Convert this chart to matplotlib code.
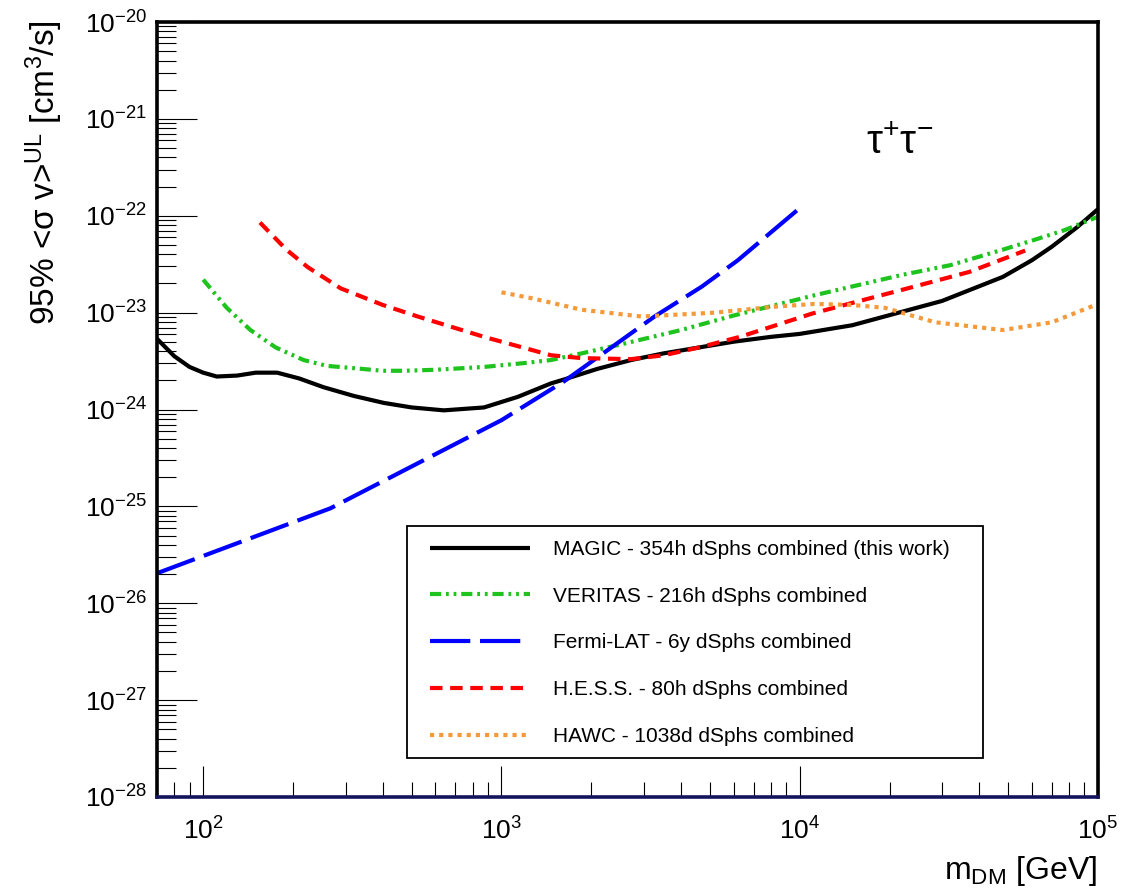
import numpy as np
import matplotlib
matplotlib.use("Agg")
import matplotlib.pyplot as plt
from matplotlib.ticker import FixedLocator, NullFormatter, LogFormatterSciNotation
from matplotlib.patches import Rectangle

plt.rcParams['font.family'] = ['Liberation Sans', 'DejaVu Sans']
plt.rcParams['mathtext.fontset'] = 'custom'
plt.rcParams['mathtext.rm'] = 'Liberation Sans'
plt.rcParams['mathtext.it'] = 'Liberation Sans:italic'
plt.rcParams['mathtext.bf'] = 'Liberation Sans:bold'
plt.rcParams['mathtext.sf'] = 'Liberation Sans'
plt.rcParams['mathtext.default'] = 'regular'
plt.rcParams['lines.scale_dashes'] = False

# ---------------- data ----------------
magic_m = [70, 80, 90, 100, 111, 130, 150, 177, 210, 253, 320, 403, 500, 641,
           874, 1134, 1466, 1620, 2100, 2720, 3500, 4600, 6000, 8000, 1.0e4,
           1.5e4, 2.2e4, 3.0e4, 4.8e4, 6.0e4, 7.0e4, 8.5e4, 1.0e5]
magic_sv = [5.37e-24, 3.55e-24, 2.75e-24, 2.40e-24, 2.19e-24, 2.24e-24, 2.40e-24,
            2.40e-24, 2.09e-24, 1.70e-24, 1.38e-24, 1.17e-24, 1.05e-24, 9.8e-25,
            1.05e-24, 1.35e-24, 1.86e-24, 2.04e-24, 2.63e-24, 3.24e-24, 3.80e-24,
            4.37e-24, 5.01e-24, 5.62e-24, 6.03e-24, 7.41e-24, 1.02e-23, 1.32e-23,
            2.34e-23, 3.47e-23, 4.79e-23, 7.59e-23, 1.17e-22]

veritas_m = [100, 120, 144, 175, 217, 260, 312, 400, 470, 600, 874, 1200, 1466,
             1860, 2500, 4000, 6000, 1.12e4, 2.2e4, 3.2e4, 4.8e4, 6.1e4, 7.7e4, 1.0e5]
veritas_sv = [2.19e-23, 1.12e-23, 6.61e-24, 4.37e-24, 3.24e-24, 2.82e-24, 2.69e-24,
              2.51e-24, 2.51e-24, 2.57e-24, 2.75e-24, 3.02e-24, 3.24e-24, 3.80e-24,
              4.68e-24, 6.61e-24, 9.33e-24, 1.51e-23, 2.45e-23, 3.09e-23, 4.47e-23,
              5.62e-23, 7.08e-23, 9.77e-23]

fermi_m = [70, 267, 1000, 1620, 3260, 4700, 6200, 1.0e4]
fermi_sv = [2.04e-26, 9.55e-26, 7.76e-25, 1.95e-24, 9.12e-24, 1.86e-23, 3.47e-23, 1.20e-22]

hess_m = [155, 190, 224, 289, 400, 524, 874, 1466, 1860, 2720, 3500, 4600, 6300,
          1.1e4, 1.5e4, 2.3e4, 3.7e4, 5.7e4]
hess_sv = [8.51e-23, 4.47e-23, 2.95e-23, 1.78e-23, 1.20e-23, 9.12e-24, 5.62e-24,
           3.63e-24, 3.39e-24, 3.31e-24, 3.63e-24, 4.37e-24, 5.62e-24, 9.77e-24,
           1.26e-23, 1.78e-23, 2.63e-23, 4.37e-23]

hawc_m = [1000, 1260, 1860, 2950, 5200, 8200, 1.12e4, 1.5e4, 1.93e4, 2.85e4, 4.8e4,
          7.0e4, 1.0e5]
hawc_sv = [1.62e-23, 1.41e-23, 1.07e-23, 9.12e-24, 1.0e-23, 1.15e-23, 1.23e-23,
           1.20e-23, 1.12e-23, 7.94e-24, 6.61e-24, 7.94e-24, 1.23e-23]

labels = ["MAGIC - 354h dSphs combined (this work)",
          "VERITAS - 216h dSphs combined",
          "Fermi-LAT - 6y dSphs combined",
          "H.E.S.S. - 80h dSphs combined",
          "HAWC - 1038d dSphs combined"]

x_range = (70, 1e5)
y_range = (1e-28, 1e-20)

# ---------------- figure ----------------
fig = plt.figure(figsize=(11.43, 8.94), dpi=100)
ax = fig.add_axes([157/1143, 1 - 797/894, (1098 - 157)/1143, (797 - 22)/894])

lw = 3.0
ax.plot(magic_m, magic_sv, color='black', lw=lw, solid_capstyle='butt', label=labels[0])
ax.plot(veritas_m, veritas_sv, color='#1ec31e', lw=lw,
        dashes=(8, 3.5, 2, 3.5, 2, 3.5), dash_capstyle='butt', label=labels[1])
ax.plot(fermi_m, fermi_sv, color='#0000ff', lw=lw,
        dashes=(29, 7), dash_capstyle='butt', label=labels[2])
ax.plot(hess_m, hess_sv, color='#ff0000', lw=lw,
        dashes=(9, 5.5), dash_capstyle='butt', label=labels[3])
ax.plot(hawc_m, hawc_sv, color='#f59a3a', lw=lw,
        dashes=(3, 3.6), dash_capstyle='butt', label=labels[4])

ax.set_xscale('log')
ax.set_yscale('log')
ax.set_xlim(*x_range)
ax.set_ylim(*y_range)

def decade_ticks(lo, hi):
    e0, e1 = int(np.ceil(np.log10(lo) - 1e-9)), int(np.floor(np.log10(hi) + 1e-9))
    major = [10.0**e for e in range(e0, e1 + 1)]
    minor = [s * 10.0**e for e in range(e0 - 1, e1 + 1) for s in range(2, 10)
             if lo <= s * 10.0**e <= hi]
    return major, minor

xmaj, xmin = decade_ticks(*x_range)
ymaj, ymin = decade_ticks(*y_range)
ax.xaxis.set_major_locator(FixedLocator(xmaj))
ax.xaxis.set_minor_locator(FixedLocator(xmin))
ax.yaxis.set_major_locator(FixedLocator(ymaj))
ax.yaxis.set_minor_locator(FixedLocator(ymin))
ax.xaxis.set_major_formatter(LogFormatterSciNotation())
ax.yaxis.set_major_formatter(LogFormatterSciNotation())
ax.xaxis.set_minor_formatter(NullFormatter())
ax.yaxis.set_minor_formatter(NullFormatter())

ax.tick_params(axis='both', which='both', direction='in', colors='black',
               top=False, right=False, width=0.8, labelsize=19)
ax.tick_params(axis='y', which='major', length=29, pad=7)
ax.tick_params(axis='y', which='minor', length=14)
ax.tick_params(axis='x', which='major', length=22, pad=15)
ax.tick_params(axis='x', which='minor', length=11)

for side in ['left', 'top', 'right']:
    ax.spines[side].set_linewidth(2.6)
    ax.spines[side].set_color('black')
ax.spines['bottom'].set_linewidth(2.6)
ax.spines['bottom'].set_color('#14145e')

# legend frame and entries
ax.add_patch(Rectangle((250/941, 39/775), 576/941, 232/775, transform=ax.transAxes,
                       facecolor='white', edgecolor='black', lw=1.3, zorder=5))
leg = ax.legend(loc='upper left', bbox_to_anchor=((430 - 157)/941, (797 - 540)/775),
                fontsize=15, frameon=False, handlelength=4.8, handletextpad=1.1,
                labelspacing=1.33, borderpad=0, borderaxespad=0)
leg.set_zorder(6)

fig.text(44/1143, 1 - 20/894, r"95% <$\sigma$ v>$^{UL}$ [cm$^{3}$/s]", rotation=90,
         ha='center', va='top', fontsize=24)
fig.text(1097/1143, 1 - 879/894, r"m$_{\rm DM}$ [GeV]", ha='right', va='baseline',
         fontsize=23)
ax.text(900/1143, 1 - 143/894, r"$\tau^{+}\tau^{-}$", transform=fig.transFigure,
        ha='center', va='center', fontsize=29, math_fontfamily='stix')

fig.savefig("out.png", dpi=100, facecolor='white')
